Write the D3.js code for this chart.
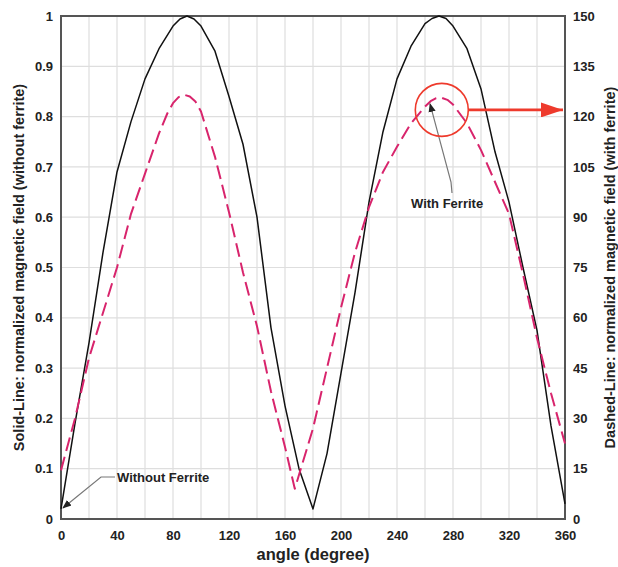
<!DOCTYPE html>
<html>
<head>
<meta charset="utf-8">
<script src="https://cdn.jsdelivr.net/npm/d3@7"></script>
<style>
  html, body { margin: 0; padding: 0; background: #fff; }
  svg text { font-family: "Liberation Sans", Arial, sans-serif; font-weight: bold; fill: #222; }
</style>
</head>
<body>
<svg id="chart" width="618" height="567"></svg>
<script>
// Field without ferrite (left axis, normalized)
const solidAngle = [0,10,20,30,40,50,60,70,80,85,90,95,100,110,120,130,140,150,160,170,180,
                    190,200,210,220,230,240,250,260,265,270,275,280,290,300,310,320,330,340,350,360];
const solidValue = [0.02,0.19,0.35,0.53,0.69,0.79,0.875,0.935,0.98,0.994,1.0,0.994,0.98,0.93,0.84,0.745,0.6,0.38,0.225,0.1,0.02,
                    0.13,0.29,0.45,0.63,0.77,0.875,0.94,0.985,0.995,1.0,0.995,0.98,0.935,0.855,0.73,0.63,0.5,0.375,0.185,0.03];

// Field with ferrite (right axis)
const dashAngle = [0,10,20,30,40,50,60,70,76,80,84,88,92,96,100,110,120,130,140,150,160,167,
                   180,190,200,210,220,230,240,250,260,264,268,272,276,280,290,300,310,320,330,340,350,360];
const dashValue = [14.5,30,48,61.5,75,91,103,115,121,124,125.8,126.5,126,124.5,121.5,108,91.5,73.5,57.5,38,21.5,9,
                   27,45,63,79.5,93,103.5,111,118,123,124.6,125.5,125.6,125,123.6,118,110,100.5,91,73,54,37.5,22.5];

const xTicks = [0,40,80,120,160,200,240,280,320,360];
const leftTicks = [0,0.1,0.2,0.3,0.4,0.5,0.6,0.7,0.8,0.9,1];
const rightTicks = [0,15,30,45,60,75,90,105,120,135,150];
const xGrid = d3.range(0, 361, 20);

const svg = d3.select("#chart");
const L = 61, R = 565, T = 16, B = 519;

const x = d3.scaleLinear().domain([0, 360]).range([L, R]);
const yL = d3.scaleLinear().domain([0, 1]).range([B, T]);
const yR = d3.scaleLinear().domain([0, 150]).range([B, T]);

// grid
const grid = svg.append("g").attr("stroke", "#dedede").attr("stroke-width", 1.2);
grid.selectAll("line.v").data(xGrid).join("line")
  .attr("x1", d => x(d)).attr("x2", d => x(d)).attr("y1", T).attr("y2", B);
grid.selectAll("line.h").data(leftTicks).join("line")
  .attr("x1", L).attr("x2", R).attr("y1", d => yL(d)).attr("y2", d => yL(d));

// axes
const fmtL = d => d === 0 ? "0" : d === 1 ? "1" : d3.format(".1f")(d);
const axL = svg.append("g").attr("transform", `translate(${L},0)`)
  .call(d3.axisLeft(yL).tickValues(leftTicks).tickFormat(fmtL).tickSize(0).tickPadding(8));
const axR = svg.append("g").attr("transform", `translate(${R},0)`)
  .call(d3.axisRight(yR).tickValues(rightTicks).tickSize(0).tickPadding(8));
const axB = svg.append("g").attr("transform", `translate(0,${B})`)
  .call(d3.axisBottom(x).tickValues(xTicks).tickSize(0).tickPadding(12));
[axL, axR, axB].forEach(a => {
  a.select(".domain").remove();
  a.selectAll("text").attr("font-size", 13).attr("font-family", null);
});

// frame
svg.append("rect").attr("x", L).attr("y", T).attr("width", R - L).attr("height", B - T)
  .attr("fill", "none").attr("stroke", "#555").attr("stroke-width", 2);

// curves
const solidLine = d3.line().x((d, i) => x(solidAngle[i])).y(d => yL(d));
svg.append("path").datum(solidValue).attr("d", solidLine)
  .attr("fill", "none").attr("stroke", "#111").attr("stroke-width", 1.5)
  .attr("stroke-linejoin", "round");

const dashLine = d3.line().x((d, i) => x(dashAngle[i])).y(d => yR(d));
svg.append("path").datum(dashValue).attr("d", dashLine)
  .attr("fill", "none").attr("stroke", "#d8246c").attr("stroke-width", 2)
  .attr("stroke-dasharray", "14,6").attr("stroke-linejoin", "round");

// markers
const defs = svg.append("defs");
defs.append("marker").attr("id", "tip").attr("viewBox", "0 0 10 10")
  .attr("refX", 9).attr("refY", 5).attr("markerWidth", 9).attr("markerHeight", 9)
  .attr("markerUnits", "userSpaceOnUse").attr("orient", "auto")
  .append("path").attr("d", "M0,1 L10,5 L0,9 Z").attr("fill", "#222");
defs.append("marker").attr("id", "redtip").attr("viewBox", "0 0 10 10")
  .attr("refX", 10).attr("refY", 5).attr("markerWidth", 22).attr("markerHeight", 15)
  .attr("markerUnits", "userSpaceOnUse").attr("orient", "auto")
  .attr("preserveAspectRatio", "none")
  .append("path").attr("d", "M0,0 L10,5 L0,10 Z").attr("fill", "#ee3a2c");

// "Without Ferrite" callout
svg.append("path")
  .attr("d", `M115,477 L101,477 L${x(1.4)},${yL(0.022)}`)
  .attr("fill", "none").attr("stroke", "#777").attr("stroke-width", 1.2)
  .attr("marker-end", "url(#tip)");
svg.append("text").attr("x", 117).attr("y", 482).attr("font-size", 13).text("Without Ferrite");

// "With Ferrite" callout
svg.append("path")
  .attr("d", `M452,193 L451,182 L${x(263.6)},${yR(123.8)}`)
  .attr("fill", "none").attr("stroke", "#777").attr("stroke-width", 1.2)
  .attr("marker-end", "url(#tip)");
svg.append("text").attr("x", 411).attr("y", 208).attr("font-size", 13).text("With Ferrite");

// highlight circle and arrow pointing at the right axis
const cx = x(272), cy = yR(122), cr = 26.5;
svg.append("circle").attr("cx", cx).attr("cy", cy).attr("r", cr)
  .attr("fill", "none").attr("stroke", "#ee3a2c").attr("stroke-width", 1.6);
svg.append("line").attr("x1", cx + cr).attr("x2", x(360) - 2).attr("y1", cy).attr("y2", cy)
  .attr("stroke", "#ee3a2c").attr("stroke-width", 2.6).attr("marker-end", "url(#redtip)");

// axis titles
svg.append("text").attr("transform", `translate(19,${(T + B) / 2}) rotate(-90)`)
  .attr("text-anchor", "middle").attr("dy", "0.35em").attr("font-size", 14.5)
  .text("Solid-Line: normalized magnetic field (without ferrite)");
svg.append("text").attr("transform", `translate(610,${(T + B) / 2}) rotate(-90)`)
  .attr("text-anchor", "middle").attr("dy", "0.35em").attr("font-size", 14.5)
  .text("Dashed-Line: normalized magnetic field (with ferrite)");
svg.append("text").attr("x", (L + R) / 2).attr("y", 560).attr("text-anchor", "middle")
  .attr("font-size", 16.5).text("angle (degree)");
</script>
</body>
</html>
